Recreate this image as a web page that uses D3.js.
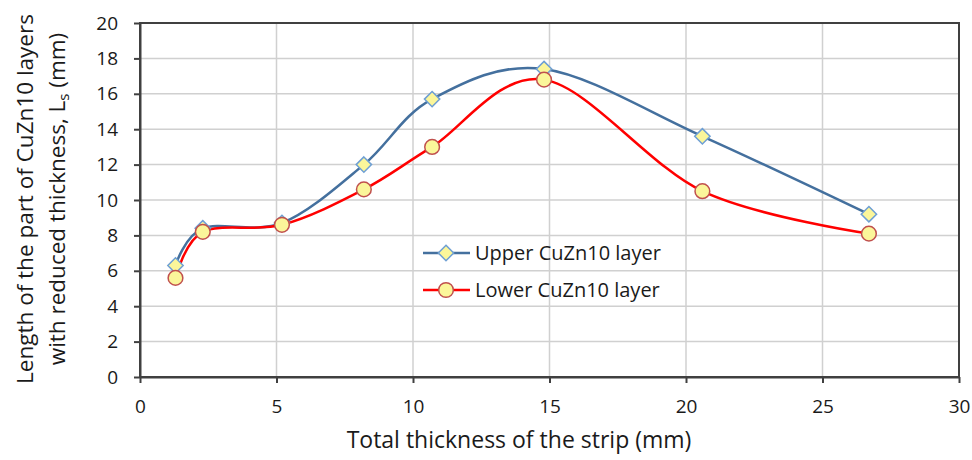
<!DOCTYPE html>
<html>
<head>
<meta charset="utf-8">
<script src="https://cdn.jsdelivr.net/npm/d3@7"></script>
<style>
  body { margin: 0; background: #fff; }
  text { font-family: "Open Sans", "Noto Sans", sans-serif; fill: #1a1a1a; }
</style>
</head>
<body>
<div id="chart"></div>
<script>
// data
const thickness = [1.3, 2.3, 5.2, 8.2, 10.7, 14.8, 20.6, 26.7];
const upperLayer = [6.3, 8.4, 8.7, 12.0, 15.7, 17.4, 13.6, 9.2];
const lowerLayer = [5.6, 8.2, 8.6, 10.6, 13.0, 16.8, 10.5, 8.1];
const xTicks = [0, 5, 10, 15, 20, 25, 30];
const yTicks = [0, 2, 4, 6, 8, 10, 12, 14, 16, 18, 20];
const seriesNames = ["Upper CuZn10 layer", "Lower CuZn10 layer"];

let width = 972, height = 460;
let margin = {top: 23, right: 13, bottom: 83, left: 140};
let innerWidth = width - margin.left - margin.right;
let innerHeight = height - margin.top - margin.bottom;

let svg = d3.select("#chart").append("svg")
    .attr("width", width)
    .attr("height", height);

let g = svg.append("g")
    .attr("transform", "translate(" + margin.left + "," + margin.top + ")");

let xScale = d3.scaleLinear().domain([0, 30]).range([0, innerWidth]);
let yScale = d3.scaleLinear().domain([0, 20]).range([innerHeight, 0]);

// grid
g.append("g").selectAll("line")
    .data(yTicks)
    .join("line")
    .attr("x1", 0).attr("x2", innerWidth)
    .attr("y1", d => yScale(d)).attr("y2", d => yScale(d))
    .attr("stroke", "#d0d0d0").attr("stroke-width", 1.5);
g.append("g").selectAll("line")
    .data(xTicks)
    .join("line")
    .attr("y1", 0).attr("y2", innerHeight)
    .attr("x1", d => xScale(d)).attr("x2", d => xScale(d))
    .attr("stroke", "#d0d0d0").attr("stroke-width", 1.5);

// frame
g.append("rect")
    .attr("width", innerWidth).attr("height", innerHeight)
    .attr("fill", "none").attr("stroke", "#404040").attr("stroke-width", 2);

// axes
let xAxis = d3.axisBottom(xScale).tickValues(xTicks).tickSize(6).tickSizeOuter(0).tickPadding(17);
let yAxis = d3.axisLeft(yScale).tickValues(yTicks).tickSize(6).tickSizeOuter(0).tickPadding(16);

let xg = g.append("g").attr("transform", "translate(0," + innerHeight + ")").call(xAxis);
let yg = g.append("g").call(yAxis);
[xg, yg].forEach(a => {
    a.attr("font-size", 19).attr("font-family", "'Open Sans', 'Noto Sans', sans-serif");
    a.select(".domain").attr("stroke", "#404040").attr("stroke-width", 2);
    a.selectAll(".tick line").attr("stroke", "#404040").attr("stroke-width", 2);
    a.selectAll(".tick text").attr("fill", "#1a1a1a");
});

// lines
let line = d3.line()
    .x(d => xScale(d[0]))
    .y(d => yScale(d[1]))
    .curve(d3.curveCatmullRom.alpha(0));

let upperData = thickness.map((t, i) => [t, upperLayer[i]]);
let lowerData = thickness.map((t, i) => [t, lowerLayer[i]]);

g.append("path").datum(upperData)
    .attr("d", line).attr("fill", "none")
    .attr("stroke", "#44709e").attr("stroke-width", 2.5);
g.append("path").datum(lowerData)
    .attr("d", line).attr("fill", "none")
    .attr("stroke", "#ff0000").attr("stroke-width", 2.5);

let diamond = d3.symbol().type(d3.symbolDiamond2).size(150);
let circle = d3.symbol().type(d3.symbolCircle).size(170);

g.selectAll(".upper-pt")
    .data(upperData)
    .join("path")
    .attr("class", "upper-pt")
    .attr("d", diamond)
    .attr("transform", d => "translate(" + xScale(d[0]) + "," + yScale(d[1]) + ")")
    .attr("fill", "#fbf69a").attr("stroke", "#6e9fd4").attr("stroke-width", 1.5);

g.selectAll(".lower-pt")
    .data(lowerData)
    .join("path")
    .attr("class", "lower-pt")
    .attr("d", circle)
    .attr("transform", d => "translate(" + xScale(d[0]) + "," + yScale(d[1]) + ")")
    .attr("fill", "#fbf69a").attr("stroke", "#c0504d").attr("stroke-width", 1.5);

// legend
let legend = svg.append("g").attr("transform", "translate(423,253)");
let legendRows = [
    {name: seriesNames[0], color: "#44709e", sym: diamond, fill: "#fbf69a", stroke: "#6e9fd4"},
    {name: seriesNames[1], color: "#ff0000", sym: circle, fill: "#fbf69a", stroke: "#c0504d"}
];
legendRows.forEach((r, i) => {
    let row = legend.append("g").attr("transform", "translate(0," + (i * 37) + ")");
    row.append("line").attr("x1", 0).attr("x2", 47).attr("y1", 0).attr("y2", 0)
        .attr("stroke", r.color).attr("stroke-width", 2.5);
    row.append("path").attr("d", r.sym).attr("transform", "translate(23,0)")
        .attr("fill", r.fill).attr("stroke", r.stroke).attr("stroke-width", 1.5);
    row.append("text").attr("x", 52).attr("y", 0).attr("dy", "0.35em")
        .attr("font-size", 20).text(r.name);
});

// axis titles
svg.append("text")
    .attr("x", 519).attr("y", 448)
    .attr("text-anchor", "middle").attr("font-size", 23)
    .text("Total thickness of the strip (mm)");

let yt = svg.append("g").attr("transform", "translate(41,199) rotate(-90)");
yt.append("text").attr("x", 0).attr("y", -8)
    .attr("text-anchor", "middle").attr("font-size", 22.5)
    .text("Length of the part of CuZn10 layers");
let yt2 = yt.append("text").attr("x", 0).attr("y", 24)
    .attr("text-anchor", "middle").attr("font-size", 22.5);
yt2.append("tspan").text("with reduced thickness, L");
yt2.append("tspan").attr("font-size", 15).attr("dy", 4).text("s");
yt2.append("tspan").attr("dy", -4).text(" (mm)");
</script>
</body>
</html>
